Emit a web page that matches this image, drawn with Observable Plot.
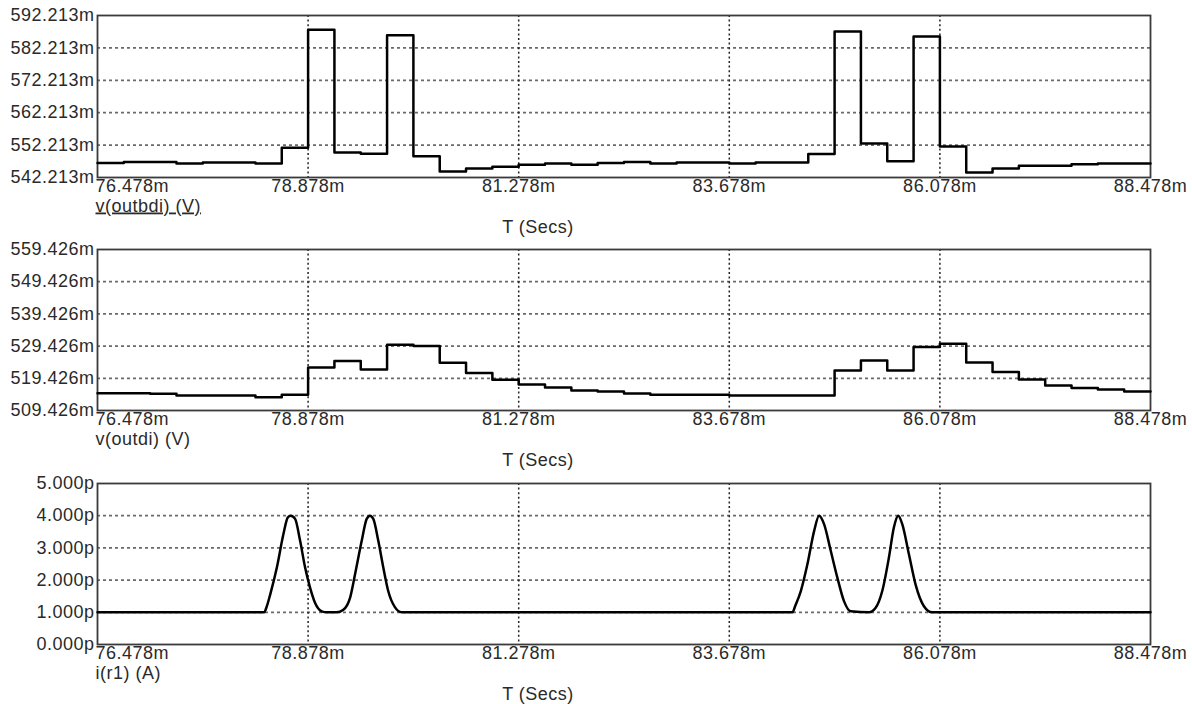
<!DOCTYPE html>
<html><head><meta charset="utf-8">
<script src="https://cdn.jsdelivr.net/npm/d3@7"></script>
<script src="https://cdn.jsdelivr.net/npm/@observablehq/plot@0.6"></script>
<style>
body{margin:0;background:#fff;}
#chart{position:relative;width:1192px;height:704px;overflow:hidden;background:#fff;}
#chart svg{display:block;position:absolute;left:0;}
</style></head><body><div id="chart"></div>
<script>
// Time axis (ms)
const xTicks = [76.478, 78.878, 81.278, 83.678, 86.078, 88.478];
const xTitle = "T (Secs)";

// Sample times of the stepped traces (ms)
const stepTime = [76.478, 76.778, 77.078, 77.378, 77.678, 77.978, 78.278, 78.578, 78.878, 79.178,
  79.478, 79.778, 80.078, 80.378, 80.678, 80.978, 81.278, 81.578, 81.878, 82.178,
  82.478, 82.778, 83.078, 83.378, 83.678, 83.978, 84.278, 84.578, 84.878, 85.178,
  85.478, 85.778, 86.078, 86.378, 86.678, 86.978, 87.278, 87.578, 87.878, 88.178, 88.478];

// v(outbdi) in mV
const outbdiName = "v(outbdi) (V)";
const outbdiTicks = [542.213, 552.213, 562.213, 572.213, 582.213, 592.213];
const outbdi = [546.65, 546.96, 546.96, 546.54, 546.85, 546.85, 546.54, 551.39, 587.78, 549.95,
  549.53, 586.13, 548.81, 544.07, 545.0, 545.51, 546.13, 546.54, 546.13, 546.65,
  546.96, 546.54, 546.85, 546.85, 546.54, 546.85, 546.85, 549.43, 587.27, 552.73,
  547.26, 585.72, 551.8, 543.76, 545.0, 545.82, 545.82, 546.34, 546.54, 546.54, 546.54];

// v(outdi) in mV
const outdiName = "v(outdi) (V)";
const outdiTicks = [509.426, 519.426, 529.426, 539.426, 549.426, 559.426];
const outdi = [514.81, 514.81, 514.62, 514.09, 514.09, 514.09, 513.56, 514.31, 522.81, 524.78,
  522.19, 529.86, 529.45, 524.26, 521.04, 518.97, 517.52, 516.6, 515.65, 515.34,
  514.72, 514.3, 514.3, 514.3, 514.09, 514.09, 514.09, 514.09, 521.87, 524.99,
  521.87, 529.14, 530.17, 524.36, 521.35, 519.07, 517.2, 516.38, 515.96, 515.34, 515.34];

// i(r1) in pA
const ir1Name = "i(r1) (A)";
const ir1Ticks = [0, 1, 2, 3, 4, 5];
const ir1Time = [76.478,
  78.377, 78.408, 78.446, 78.522, 78.597, 78.647, 78.681, 78.730, 78.787, 78.844, 78.901, 78.958, 79.034, 79.091,
  79.204, 79.280, 79.356, 79.413, 79.489, 79.546, 79.583, 79.621, 79.678, 79.735, 79.791, 79.867, 79.944,
  84.398, 84.428, 84.493, 84.568, 84.645, 84.701, 84.758, 84.834, 84.910, 84.986, 85.062,
  85.270, 85.346, 85.421, 85.497, 85.554, 85.603, 85.649, 85.725, 85.801, 85.896, 85.990,
  88.478];
const ir1 = [1.0,
  1.0, 1.19, 1.55, 2.39, 3.43, 3.95, 4.0, 3.9, 3.22, 2.39, 1.76, 1.29, 1.03, 1.0,
  1.0, 1.08, 1.45, 2.18, 3.22, 3.9, 4.0, 3.9, 3.22, 2.39, 1.66, 1.16, 1.0,
  1.0, 1.19, 1.66, 2.49, 3.53, 4.0, 3.74, 2.91, 2.07, 1.34, 1.03,
  1.0, 1.14, 1.66, 2.70, 3.64, 4.0, 3.74, 2.80, 1.86, 1.19, 1.0,
  1.0];

const FONT = '"Liberation Sans", Arial, sans-serif';
const fmtM = d => d3.format(".3f")(d) + "m";
const fmtP = d => d3.format(".3f")(d) + "p";

function panel(o) {
  const data = o.times.map((t, i) => ({t, v: o.values[i]}));
  const yT = o.yTicks;
  return Plot.plot({
    width: 1192, height: o.height,
    marginLeft: 97, marginRight: 42, marginTop: o.mt, marginBottom: o.mb,
    style: {fontFamily: FONT, fontSize: "18px", color: "#2a2a2a", background: "transparent", overflow: "visible", letterSpacing: "0.5px"},
    x: {domain: [xTicks[0], xTicks[xTicks.length - 1]], axis: null},
    y: {domain: [yT[0], yT[yT.length - 1]], axis: null},
    marks: [
      Plot.ruleY(yT.slice(1, -1), {stroke: "#6a6a6a", strokeWidth: 1.7, strokeDasharray: "3,3"}),
      Plot.ruleX(xTicks.slice(1, -1), {stroke: "#222", strokeWidth: 1.5, strokeDasharray: "2,2.6"}),
      Plot.frame({stroke: "#3a3a3a", strokeWidth: 1.8}),
      Plot.line(data, {x: "t", y: "v", curve: o.curve, stroke: "#000", strokeWidth: 2.5}),
      Plot.axisY(yT, {tickSize: 0, tickPadding: 3, tickFormat: o.fmt, fontSize: 18, label: null, fill: "#2a2a2a"}),
      Plot.text([xTicks[0]], {x: d => d, frameAnchor: "bottom", textAnchor: "start", dx: -2, dy: 14,
        text: d => fmtM(d), fontSize: 18, fill: "#2a2a2a"}),
      Plot.text(xTicks.slice(1), {x: d => d, frameAnchor: "bottom", dy: 14,
        text: d => fmtM(d), fontSize: 18, fill: "#2a2a2a"}),
      Plot.text([o.name], {frameAnchor: "bottom-left", textAnchor: "start", dx: -2, dy: 34,
        text: d => d, fontSize: 18, fill: "#2a2a2a"}),
      Plot.text([xTitle], {frameAnchor: "bottom", dx: -86, dy: 55, text: d => d, fontSize: 18, fill: "#2a2a2a"})
    ]
  });
}

const chart = document.getElementById("chart");
const specs = [
  {top: 0, height: 235, mt: 15, mb: 58, times: stepTime, values: outbdi, curve: "step-after", yTicks: outbdiTicks, fmt: fmtM, name: outbdiName, underline: true},
  {top: 235, height: 235, mt: 14, mb: 60, times: stepTime, values: outdi, curve: "step-after", yTicks: outdiTicks, fmt: fmtM, name: outdiName},
  {top: 470, height: 234, mt: 13, mb: 60, times: ir1Time, values: ir1, curve: "monotone-x", yTicks: ir1Ticks, fmt: fmtP, name: ir1Name}
];
for (const s of specs) {
  const svg = panel(s);
  svg.style.top = s.top + "px";
  if (s.underline) {
    d3.select(svg).selectAll("text").filter(function () { return this.textContent === s.name; })
      .style("text-decoration", "underline");
  }
  chart.appendChild(svg);
}
</script>
</body></html>
